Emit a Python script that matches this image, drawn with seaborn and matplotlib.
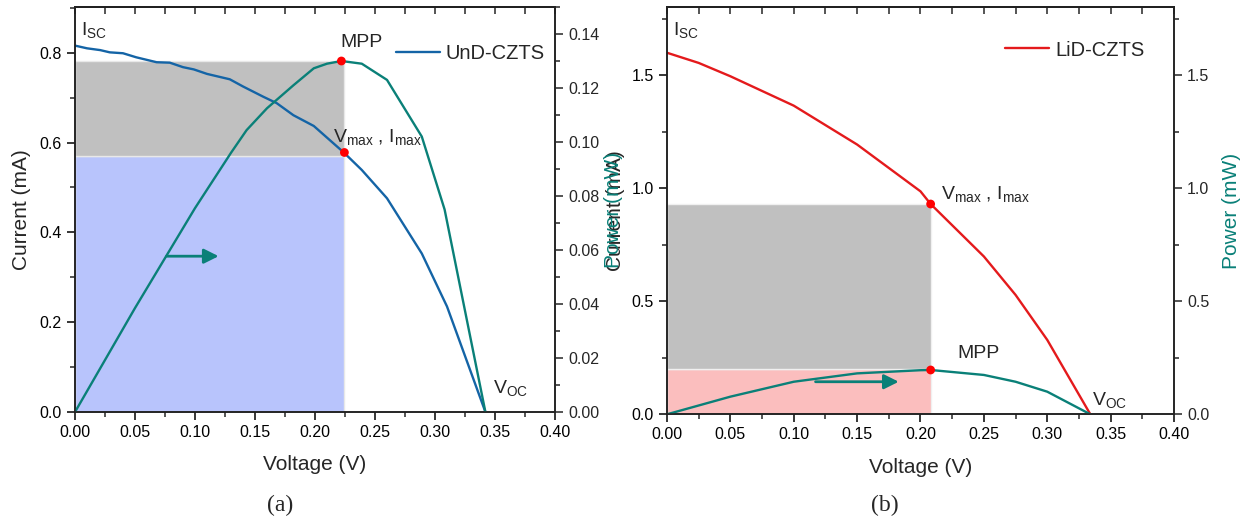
import numpy as np
import pandas as pd
import seaborn as sns
import matplotlib.pyplot as plt
from matplotlib.ticker import MultipleLocator

# ---- (a) UnD-CZTS ----
v_iv_a = [0.0, 0.01, 0.021, 0.029, 0.04, 0.051, 0.068, 0.079, 0.09, 0.099, 0.11, 0.129,
          0.14, 0.157, 0.168, 0.182, 0.199, 0.224, 0.239, 0.26, 0.289, 0.31, 0.342]
i_a = [0.816, 0.81, 0.806, 0.801, 0.799, 0.79, 0.779, 0.778, 0.768, 0.763, 0.753, 0.741,
       0.725, 0.702, 0.688, 0.661, 0.637, 0.578, 0.539, 0.476, 0.353, 0.235, 0.0]
v_p_a = [0.0, 0.05, 0.10, 0.13, 0.143, 0.16, 0.182, 0.199, 0.21, 0.222, 0.239, 0.26,
         0.289, 0.308, 0.342]
p_a = [0.0, 0.0385, 0.0755, 0.096, 0.1044, 0.1125, 0.121, 0.1273, 0.129, 0.130, 0.129,
       0.123, 0.102, 0.075, 0.0]
vmax_a, imax_a, pmax_a = 0.2245, 0.578, 0.130
rect_a_split, rect_a_top = 0.571, 0.782

# ---- (b) LiD-CZTS ----
v_iv_b = [0.0, 0.025, 0.05, 0.10, 0.15, 0.20, 0.208, 0.25, 0.275, 0.30, 0.334]
i_b = [1.599, 1.554, 1.495, 1.365, 1.193, 0.986, 0.930, 0.698, 0.528, 0.329, 0.0]
v_p_b = [0.0, 0.05, 0.10, 0.15, 0.20, 0.208, 0.25, 0.275, 0.30, 0.334]
p_b = [0.0, 0.078, 0.144, 0.181, 0.195, 0.196, 0.174, 0.144, 0.100, 0.0]
vmax_b, imax_b, pmax_b = 0.208, 0.930, 0.199

BLUE = '#1464a6'
TEAL = '#0a8078'
RED = '#e41a1c'

sns.set_theme(style='ticks')
plt.rcParams['font.family'] = ['Liberation Sans', 'DejaVu Sans']
plt.rcParams['mathtext.default'] = 'regular'
plt.rcParams['axes.linewidth'] = 1.1

fig = plt.figure(figsize=(12.49, 5.19), dpi=100)
W, H = 1249, 519
ax1 = fig.add_axes([75 / W, (H - 412) / H, 480 / W, 405 / H])
ax2 = fig.add_axes([667 / W, (H - 414.3) / H, 507 / W, 407 / H])


def style_axis(ax, xmajor, xminor, ymajor, yminor):
    ax.xaxis.set_major_locator(MultipleLocator(xmajor))
    ax.xaxis.set_minor_locator(MultipleLocator(xminor))
    ax.yaxis.set_major_locator(MultipleLocator(ymajor))
    ax.yaxis.set_minor_locator(MultipleLocator(yminor))
    ax.tick_params(which='major', direction='out', length=6, width=1.1, labelsize=11.5,
                   colors='black')
    ax.tick_params(which='minor', direction='out', length=3.5, width=1.1)
    for s in ax.spines.values():
        s.set_visible(True)
        s.set_color('black')
    top = ax.secondary_xaxis('top')
    top.xaxis.set_major_locator(MultipleLocator(xminor))
    top.tick_params(direction='in', length=5, width=1.1, labeltop=False)


# ----- panel (a) -----
ax1.fill_between([0, vmax_a], 0, rect_a_split, color='#b8c4fc', edgecolor='#e8e8e8', lw=1, zorder=0)
ax1.fill_between([0, vmax_a], rect_a_split, rect_a_top, color='#c0c0c0', edgecolor='#e8e8e8', lw=1, zorder=0)
sns.lineplot(x=v_iv_a, y=i_a, ax=ax1, color=BLUE, lw=1.7, sort=False, estimator=None,
             label='UnD-CZTS')
sns.scatterplot(x=[vmax_a], y=[imax_a], ax=ax1, color='red', s=40, edgecolor='none', zorder=5)
ax1.set_xlim(0, 0.40)
ax1.set_ylim(0, 0.902)
style_axis(ax1, 0.05, 0.025, 0.2, 0.1)
ax1.set_xlabel('Voltage (V)', fontsize=15, labelpad=11)
ax1.set_ylabel('Current (mA)', fontsize=15, labelpad=6)
ax1.legend(loc='center left', bbox_to_anchor=(0.668, 0.886), frameon=False, fontsize=14.5,
           handlelength=2.2, handletextpad=0.3, borderpad=0, borderaxespad=0)

ax1b = ax1.twinx()
sns.lineplot(x=v_p_a, y=p_a, ax=ax1b, color=TEAL, lw=1.7, sort=False, estimator=None)
sns.scatterplot(x=[0.222], y=[pmax_a], ax=ax1b, color='red', s=40, edgecolor='none', zorder=5)
ax1b.set_ylim(0, 0.15)
ax1b.yaxis.set_major_locator(MultipleLocator(0.02))
ax1b.yaxis.set_minor_locator(MultipleLocator(0.01))
ax1b.yaxis.set_major_formatter(plt.FormatStrFormatter('%.2f'))
ax1b.tick_params(which='major', direction='out', length=6, width=1.1, labelsize=11.5)
ax1b.tick_params(which='minor', direction='out', length=3.5, width=1.1)
ax1b.set_ylabel('Power (mW)', fontsize=15, color=TEAL, labelpad=3)

ax1.annotate('', xy=(0.122, 0.347), xytext=(0.074, 0.347),
             arrowprops=dict(arrowstyle='-|>', color=TEAL, lw=2, mutation_scale=22))
ax1.text(0.005, 0.85, 'I$_{SC}$', fontsize=14, va='center', ha='left')
ax1.text(0.221, 0.823, 'MPP', fontsize=14, va='center', ha='left')
ax1.text(0.215, 0.612, 'V$_{max}$ , I$_{max}$', fontsize=14, va='center', ha='left')
ax1.text(0.348, 0.053, 'V$_{OC}$', fontsize=14, va='center', ha='left')
ax1.xaxis.set_major_formatter(plt.FormatStrFormatter('%.2f'))
ax1.yaxis.set_major_formatter(plt.FormatStrFormatter('%.1f'))

# ----- panel (b) -----
ax2.fill_between([0, vmax_b], 0, pmax_b, color='#fbbebe', edgecolor='#f0f0f0', lw=1, zorder=0)
ax2.fill_between([0, vmax_b], pmax_b, imax_b, color='#c0c0c0', edgecolor='#f0f0f0', lw=1, zorder=0)
sns.lineplot(x=v_iv_b, y=i_b, ax=ax2, color=RED, lw=1.7, sort=False, estimator=None,
             label='LiD-CZTS')
sns.scatterplot(x=[vmax_b], y=[imax_b], ax=ax2, color='red', s=40, edgecolor='none', zorder=5)
ax2.set_xlim(0, 0.40)
ax2.set_ylim(0, 1.80)
style_axis(ax2, 0.05, 0.025, 0.5, 0.25)
ax2.set_xlabel('Voltage (V)', fontsize=15, labelpad=11)
ax2.set_ylabel('Current (mA)', fontsize=15, labelpad=5)
ax2.legend(loc='center left', bbox_to_anchor=(0.667, 0.895), frameon=False, fontsize=14.5,
           handlelength=2.2, handletextpad=0.3, borderpad=0, borderaxespad=0)

ax2b = ax2.twinx()
sns.lineplot(x=v_p_b, y=p_b, ax=ax2b, color=TEAL, lw=1.7, sort=False, estimator=None)
sns.scatterplot(x=[vmax_b], y=[0.196], ax=ax2b, color='red', s=40, edgecolor='none', zorder=5)
ax2b.set_ylim(0, 1.80)
ax2b.yaxis.set_major_locator(MultipleLocator(0.5))
ax2b.yaxis.set_minor_locator(MultipleLocator(0.25))
ax2b.tick_params(which='major', direction='out', length=6, width=1.1, labelsize=11.5)
ax2b.tick_params(which='minor', direction='out', length=3.5, width=1.1)
ax2b.set_ylabel('Power (mW)', fontsize=15, color=TEAL, labelpad=9)

ax2.annotate('', xy=(0.185, 0.144), xytext=(0.115, 0.144),
             arrowprops=dict(arrowstyle='-|>', color=TEAL, lw=2, mutation_scale=22))
ax2.text(0.005, 1.70, 'I$_{SC}$', fontsize=14, va='center', ha='left')
ax2.text(0.229, 0.267, 'MPP', fontsize=14, va='center', ha='left')
ax2.text(0.216, 0.973, 'V$_{max}$ , I$_{max}$', fontsize=14, va='center', ha='left')
ax2.text(0.335, 0.063, 'V$_{OC}$', fontsize=14, va='center', ha='left')
ax2.xaxis.set_major_formatter(plt.FormatStrFormatter('%.2f'))
ax2.yaxis.set_major_formatter(plt.FormatStrFormatter('%.1f'))
ax2b.yaxis.set_major_formatter(plt.FormatStrFormatter('%.1f'))

fig.text(280 / W, 1 - 505 / H, '(a)', family=['Liberation Serif'], fontsize=17,
         ha='center', va='center')
fig.text(885 / W, 1 - 505 / H, '(b)', family=['Liberation Serif'], fontsize=17,
         ha='center', va='center')

fig.savefig('out.png', dpi=100)
